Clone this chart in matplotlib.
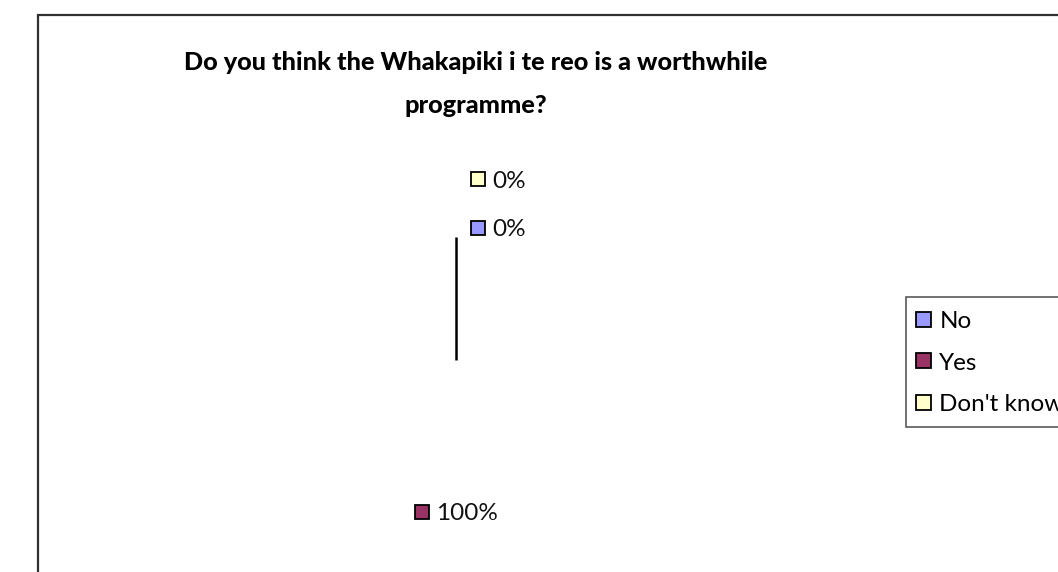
import numpy as np
import matplotlib.pyplot as plt
from matplotlib.patches import Rectangle
from matplotlib.lines import Line2D

W, H = 1058, 572

labels = ["No", "Yes", "Don't know"]
shares = [0, 100, 0]
colors = ["#9999FF", "#993366", "#FFFFCC"]
title_lines = ["Do you think the Whakapiki i te reo is a worthwhile",
               "programme?"]

plt.rcParams['font.family'] = ['Lato', 'DejaVu Sans']

fig = plt.figure(figsize=(W / 100, H / 100), dpi=100)
fig.patch.set_facecolor("white")


def fx(x):
    return x / W


def fy(y):
    return 1 - y / H


# chart area border (runs off the right and bottom edges)
fig.add_artist(Rectangle((fx(38), fy(15 + 700)), fx(1200), 700 / H,
                         transform=fig.transFigure, fill=False,
                         edgecolor="#303030", lw=1.6, clip_on=False))

for line, base in zip(title_lines, [70, 113]):
    fig.text(fx(476), fy(base), line, ha="center", va="baseline",
             fontsize=18.2, fontweight="black")

# pie: center at (456, 360) px, radius 123 px
cx, cy, r = 456, 360, 123
ax = fig.add_axes([fx(cx - r), fy(cy + r), 2 * r / W, 2 * r / H])
ax.axis("off")
wedges, _ = ax.pie(shares, colors=["none"] * 3, startangle=90,
                   counterclock=False, radius=1,
                   wedgeprops=dict(linewidth=0, edgecolor="none"))
ax.set_xlim(-1, 1)
ax.set_ylim(-1, 1)
ax.set_aspect("auto")

# the only visible edge of the single full slice: its radial boundary
for w, v in zip(wedges, shares):
    if v > 0:
        t = np.deg2rad(w.theta2)
        ax.plot([0, np.cos(t)], [0, np.sin(t)], color="black", lw=1.8,
                solid_capstyle="butt")

# data labels: (x of swatch, y of swatch top)
label_pos = {"Don't know": (471, 172), "No": (471, 221), "Yes": (415, 505)}
sq = 14
for name, v, c in zip(labels, shares, colors):
    x0, y0 = label_pos[name]
    fig.add_artist(Rectangle((fx(x0), fy(y0 + sq)), sq / W, sq / H,
                             transform=fig.transFigure, facecolor=c,
                             edgecolor="black", lw=1.3))
    fig.text(fx(x0 + sq + 7), fy(y0 + sq / 2 + 2), f"{v}%", ha="left",
             va="center", fontsize=17.5, color="#111111")

handles = [Line2D([], [], marker="s", linestyle="none", markersize=10.8,
                  markerfacecolor=c, markeredgecolor="black",
                  markeredgewidth=1.3) for c in colors]
leg = fig.legend(handles, labels, loc="upper left",
                 bbox_to_anchor=(fx(906), fy(297)), borderaxespad=0,
                 frameon=True, fancybox=False, fontsize=17.5,
                 handlelength=0.42, handleheight=1.0, handletextpad=0.45,
                 labelspacing=0.75, borderpad=0.5, edgecolor="#303030")
leg.get_frame().set_linewidth(1.2)

fig.savefig("out.png", dpi=100, facecolor="white")
